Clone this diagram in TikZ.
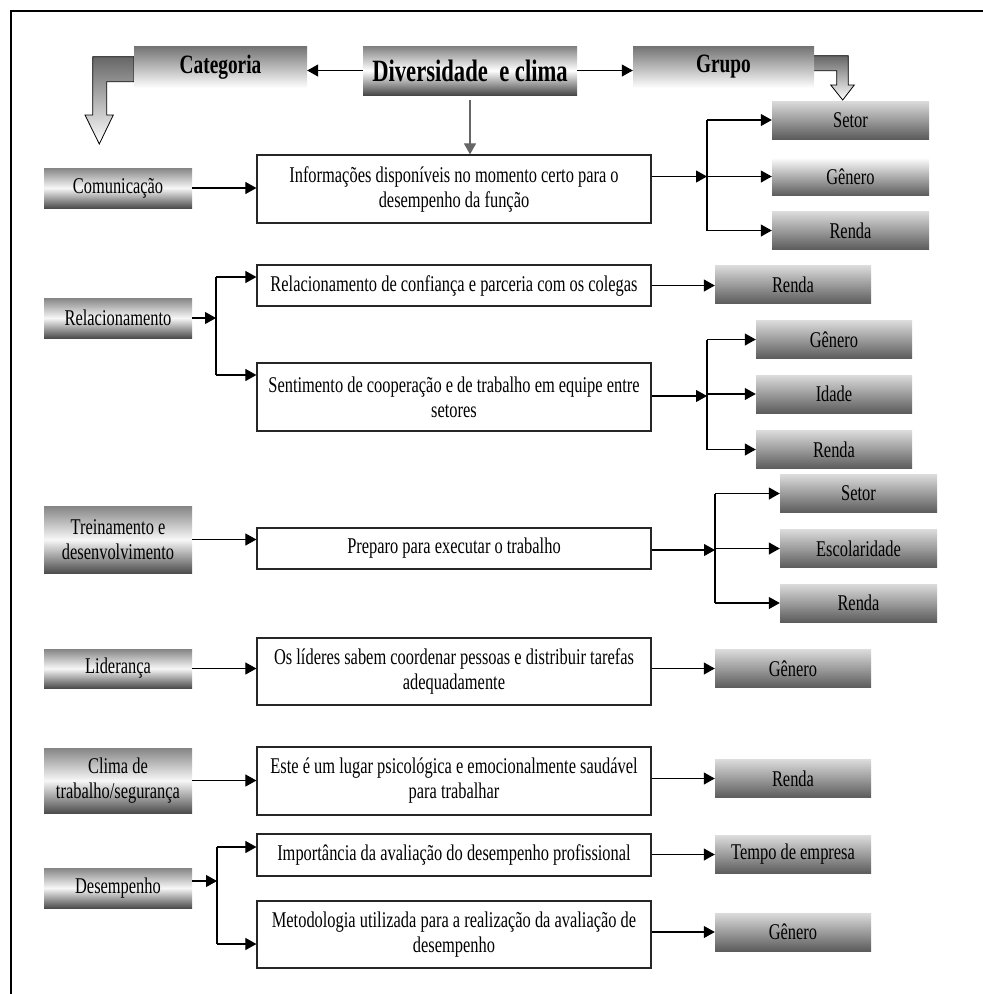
\documentclass[tikz,border=0pt]{standalone}
\usepackage{fontspec}
\setmainfont{Liberation Serif}[FakeStretch=0.73]
\usetikzlibrary{arrows.meta}
\begin{document}
\begin{tikzpicture}[x=1pt,y=-1pt,
  txt/.style={font=\fontsize{22.5}{25}\selectfont, align=center, inner sep=0pt},
  catbox/.style={txt, minimum width=148pt, top color=black!48, bottom color=black!70, middle color=black!3},
  midbox/.style={txt, draw=black!85, line width=1.2pt, fill=white, minimum width=394pt},
  grpbox/.style={txt, minimum width=157pt, minimum height=38pt, top color=black!14, bottom color=black!64},
  hdr/.style={font=\fontsize{26.5}{30}\selectfont\bfseries, inner sep=0pt, minimum height=42pt, top color=black!55, bottom color=white},
  arr/.style={line width=1.1pt, -{Triangle[length=11pt,width=12pt]}},
  ln/.style={line width=1.1pt},
  bent/.style={draw=black, line width=0.8pt, top color=black!60, bottom color=white}
]
\useasboundingbox (0,0) rectangle (983,994);
\draw[line width=2pt] (983,11) -- (11,11) -- (11,994);

% bent block arrows
\path[bent] (134,56.7) -- (92.7,56.7) -- (92.7,115) -- (85,115) -- (99.3,144) -- (113.3,115) -- (106.7,115) -- (106.7,81.7) -- (134,81.7) -- cycle;
\path[bent] (812.7,55.7) -- (848.3,55.7) -- (848.3,85) -- (854.3,85) -- (842.7,100) -- (830.7,85) -- (836.7,85) -- (836.7,70.7) -- (812.7,70.7) -- cycle;

% headers
\node[hdr, minimum width=173pt] (cat) at (220.5,67) {Categoria};
\node[font=\fontsize{31}{34}\selectfont\bfseries, inner sep=0pt, minimum width=214pt, minimum height=49pt,
      top color=black!50, bottom color=black!72, middle color=white] (div) at (470,70.5) {Diversidade \ e clima};
\node[hdr, minimum width=181pt] (grp) at (723.5,67) {Grupo};

% category boxes
\node[catbox, minimum height=40pt] (com) at (118,188) {Comunicação};
\node[catbox, minimum height=40pt] (rel) at (118,318) {Relacionamento};
\node[catbox, minimum height=67pt] (tre) at (118,539.5) {Treinamento e\\desenvolvimento};
\node[catbox, minimum height=39pt] (lid) at (118,668.5) {Liderança};
\node[catbox, minimum height=65pt] (cli) at (118,780.5) {Clima de\\trabalho/segurança};
\node[catbox, minimum height=40pt] (des) at (118,888) {Desempenho};

% middle boxes
\node[midbox, minimum height=68pt] (info) at (454,189) {Informações disponíveis no momento certo para o\\desempenho da função};
\node[midbox, minimum height=41pt] (conf) at (454,285.5) {Relacionamento de confiança e parceria com os colegas};
\node[midbox, minimum height=68pt] (sent) at (454,397) {Sentimento de cooperação e de trabalho em equipe entre\\setores};
\node[midbox, minimum height=41pt] (prep) at (454,548.5) {Preparo para executar o trabalho};
\node[midbox, minimum height=67pt] (lider) at (454,671.5) {Os líderes sabem coordenar pessoas e distribuir tarefas\\adequadamente};
\node[midbox, minimum height=68pt] (este) at (454,781) {Este é um lugar psicológica e emocionalmente saudável\\para trabalhar};
\node[midbox, minimum height=42pt] (imp) at (454,855) {Importância da avaliação do desempenho profissional};
\node[midbox, minimum height=67pt] (met) at (454,934.5) {Metodologia utilizada para a realização da avaliação de\\desempenho};

% group boxes
\node[grpbox] (setA) at (850.5,120) {Setor};
\node[grpbox, top color=white, bottom color=black!64] (genA) at (850.5,176.5) {Gênero};
\node[grpbox] (renA) at (850.5,230.5) {Renda};
\node[grpbox, minimum width=156pt] (renB) at (793,284.5) {Renda};
\node[grpbox, minimum width=156pt] (genC) at (834,339.5) {Gênero};
\node[grpbox, minimum width=156pt] (idaC) at (834,394) {Idade};
\node[grpbox, minimum width=156pt] (renC) at (834,449.5) {Renda};
\node[grpbox] (setD) at (858.5,493.5) {Setor};
\node[grpbox] (escD) at (858.5,548.5) {Escolaridade};
\node[grpbox] (renD) at (858.5,603) {Renda};
\node[grpbox, minimum width=156pt] (genE) at (793,668.5) {Gênero};
\node[grpbox, minimum width=156pt] (renF) at (793,778.5) {Renda};
\node[grpbox, minimum width=156pt] (tempG) at (793,854.5) {Tempo de empresa};
\node[grpbox, minimum width=156pt] (genH) at (793,932) {Gênero};

% header connectors
\draw[arr] (div.west) -- (div.west -| cat.east);
\draw[arr] (div.east) -- (div.east -| grp.west);
\draw[arr, draw=black!60, fill=black] ([yshift=-5pt]div.south) -- (div.south |- info.north);

% Comunicação
\draw[arr] (com.east) -- (com.east -| info.west);
\coordinate (ba) at (707,176.5);
\draw[arr] (ba -| info.east) -- (ba);
\draw[ln] (ba |- setA.west) -- (ba |- renA.west);
\draw[arr] (ba |- setA.west) -- (setA.west);
\draw[arr] (ba |- genA.west) -- (genA.west);
\draw[arr] (ba |- renA.west) -- (renA.west);

% Relacionamento
\coordinate (r1) at (216,277);
\coordinate (r2) at (216,375);
\draw[arr] (rel.east) -- (rel.east -| r1);
\draw[ln] (r1) -- (r2);
\draw[arr] (r1) -- (r1 -| conf.west);
\draw[arr] (r2) -- (r2 -| sent.west);
\draw[arr] (conf.east) -- (conf.east -| renB.west);
\coordinate (bc) at (707,396);
\draw[arr] (bc -| sent.east) -- (bc);
\draw[ln] (bc |- genC.west) -- (bc |- renC.west);
\draw[arr] (bc |- genC.west) -- (genC.west);
\draw[arr] (bc |- idaC.west) -- (idaC.west);
\draw[arr] (bc |- renC.west) -- (renC.west);

% Treinamento
\draw[arr] (tre.east) -- (tre.east -| prep.west);
\coordinate (bd) at (715,550);
\draw[arr] (bd -| prep.east) -- (bd);
\draw[ln] (bd |- setD.west) -- (bd |- renD.west);
\draw[arr] (bd |- setD.west) -- (setD.west);
\draw[arr] (bd |- escD.west) -- (escD.west);
\draw[arr] (bd |- renD.west) -- (renD.west);

% Liderança
\draw[arr] (lid.east) -- (lid.east -| lider.west);
\draw[arr] (lider.east |- genE.west) -- (genE.west);

% Clima
\draw[arr] (cli.east) -- (cli.east -| este.west);
\draw[arr] (este.east |- renF.west) -- (renF.west);

% Desempenho
\coordinate (d0) at (217,881);
\coordinate (d1) at (217,847);
\coordinate (d2) at (217,944);
\draw[arr] (d0 -| des.east) -- (d0);
\draw[ln] (d1) -- (d2);
\draw[arr] (d1) -- (d1 -| imp.west);
\draw[arr] (d2) -- (d2 -| met.west);
\draw[arr] (imp.east |- tempG.west) -- (tempG.west);
\draw[arr] (met.east |- genH.west) -- (genH.west);
\end{tikzpicture}
\end{document}
